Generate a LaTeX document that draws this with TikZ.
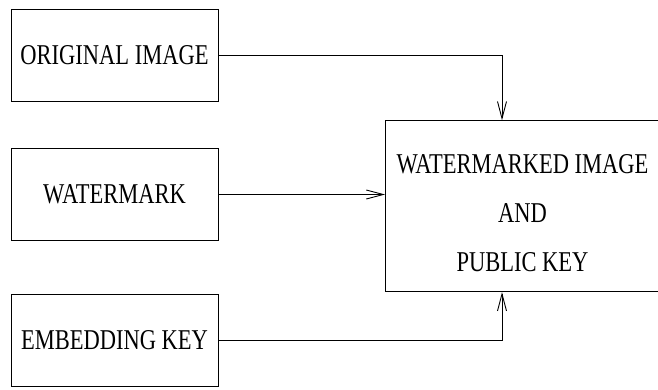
\documentclass[tikz,border=0pt]{standalone}
\usepackage{fontspec}
\setmainfont{Liberation Serif}[FakeStretch=0.784]
\usetikzlibrary{
    arrows.meta,
    positioning
}

\begin{document}
\begin{tikzpicture}[
    x=1pt,
    y=-1pt,
    every node/.style={
        font=\fontsize{28.7pt}{49pt}\selectfont
    },
    blockbox/.style={
        draw,
        line width=0.9pt,
        inner sep=0pt,
        minimum width=207pt,
        minimum height=92.5pt
    },
    flowarrow/.style={
        line width=0.9pt,
        -{Straight Barb[length=17pt,width=9pt]}
    }
]

    \useasboundingbox (0,0) rectangle (658,389);

    % Inputs
    \node[blockbox] (orig) at (114.5,55.5)
        {ORIGINAL IMAGE};

    \node[blockbox] (wmark) at (114.5,194.5)
        {WATERMARK};

    \node[blockbox] (ekey) at (114.5,340.5)
        {EMBEDDING KEY};

    % Output
    \node[
        blockbox,
        align=center,
        minimum width=274pt,
        minimum height=171pt
    ] (result) at (522.5,206.2)
        {\rule{0pt}{32pt}WATERMARKED IMAGE\\AND\\PUBLIC KEY};

    % Connectors
    \draw[flowarrow]
        (orig.east)
        -| ([xshift=-20.5pt]result.north);

    \draw[flowarrow]
        (wmark.east)
        -- (wmark.east -| result.west);

    \draw[flowarrow]
        (ekey.east)
        -| ([xshift=-20.5pt]result.south);

\end{tikzpicture}
\end{document}
